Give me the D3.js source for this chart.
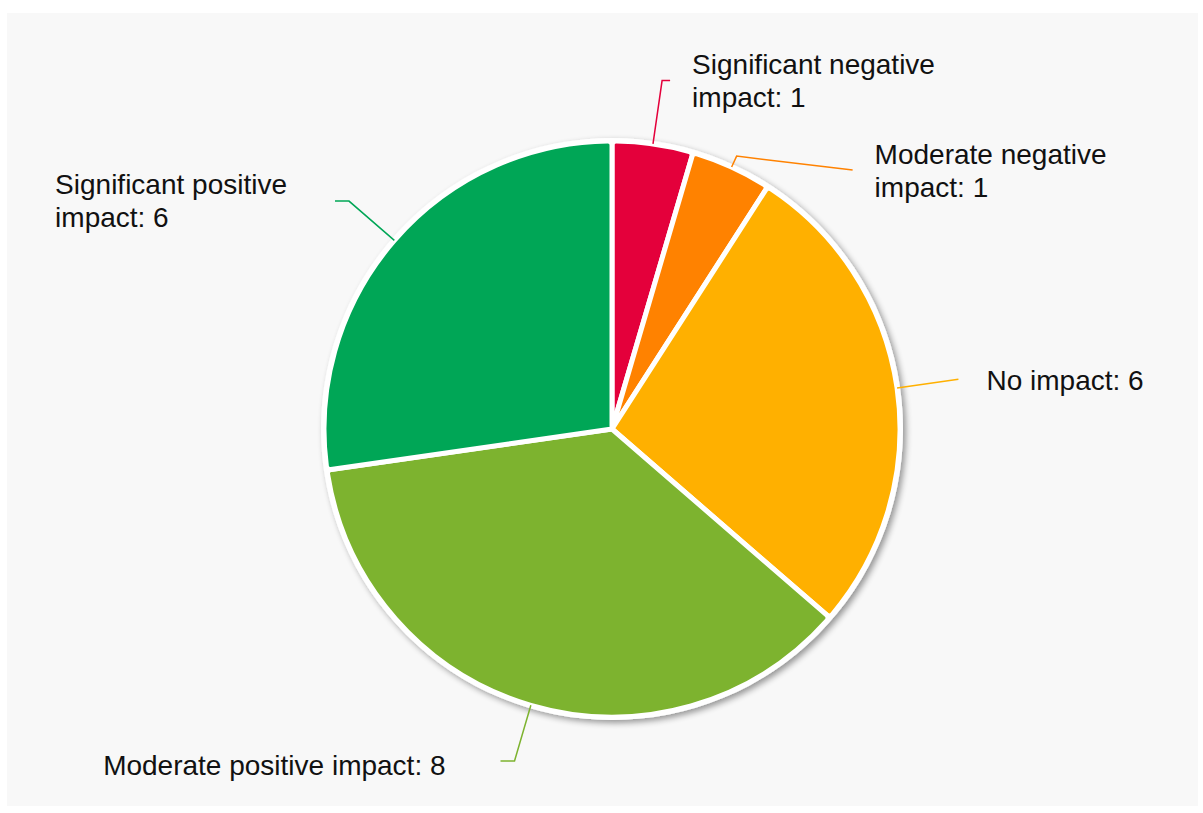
<!DOCTYPE html>
<html>
<head>
<meta charset="utf-8">
<script src="https://cdn.jsdelivr.net/npm/d3@7"></script>
<style>
  html, body { margin: 0; padding: 0; background: #ffffff; }
  svg { display: block; }
</style>
</head>
<body>
<svg id="chart" width="1203" height="813"></svg>
<script>
// ---- data ----
const categories = [
  "Significant negative impact",
  "Moderate negative impact",
  "No impact",
  "Moderate positive impact",
  "Significant positive impact"
];
const values = [1, 1, 6, 8, 6];
const colors = ["#e4003b", "#ff8200", "#ffb000", "#7db32f", "#00a656"];
// label text lines (wrapped as in the reference)
const labelLines = [
  ["Significant negative", "impact: 1"],
  ["Moderate negative", "impact: 1"],
  ["No impact: 6"],
  ["Moderate positive impact: 8"],
  ["Significant positive", "impact: 6"]
];

// ---- layout ----
const W = 1203, H = 813;
const cx = 612, cy = 429, R = 288;
// connector layout per slice: radial extension, horizontal elbow, vertical drift, text gap, text shift
const connector = [
  { ext: 64, elbow: 8,   dy: 0,  gap: 22, ty: 0 },
  { ext: 12, elbow: 116, dy: 14, gap: 22, ty: 1 },
  { ext: 62, elbow: 0,   dy: 0,  gap: 28, ty: 1 },
  { ext: 58, elbow: 14,  dy: 0,  gap: 55, ty: 4 },
  { ext: 60, elbow: 14,  dy: 0,  gap: 48, ty: 0 }
];

const svg = d3.select("#chart");
const defs = svg.append("defs");
const f = defs.append("filter").attr("id", "shadow")
  .attr("x", "-10%").attr("y", "-10%").attr("width", "120%").attr("height", "120%");
f.append("feGaussianBlur").attr("in", "SourceAlpha").attr("stdDeviation", 3).attr("result", "b");
f.append("feOffset").attr("in", "b").attr("dx", 3).attr("dy", 3).attr("result", "o");
f.append("feComponentTransfer").attr("in", "o").attr("result", "s")
  .append("feFuncA").attr("type", "linear").attr("slope", 0.4);
const m = f.append("feMerge");
m.append("feMergeNode").attr("in", "s");
m.append("feMergeNode").attr("in", "SourceGraphic");

// panel
svg.append("rect").attr("x", 7).attr("y", 13).attr("width", 1191).attr("height", 793)
  .attr("fill", "#f8f8f8");

const pie = d3.pie().sort(null).value(d => d)(values);
const arc = d3.arc().innerRadius(0).outerRadius(R).cornerRadius(4);

const g = svg.append("g").attr("transform", `translate(${cx},${cy})`);

// outer white ring with shadow
g.append("circle").attr("r", R + 3).attr("fill", "#ffffff").attr("filter", "url(#shadow)");

g.selectAll("path.slice").data(pie).join("path")
  .attr("class", "slice")
  .attr("d", arc)
  .attr("fill", (d, i) => colors[i])
  .attr("stroke", "#ffffff")
  .attr("stroke-width", 5)
  .attr("stroke-linejoin", "round");

// connectors & labels
const polar = (r, a) => [r * Math.sin(a), -r * Math.cos(a)];
pie.forEach((d, i) => {
  const a = (d.startAngle + d.endAngle) / 2;
  const c = connector[i];
  const right = Math.sin(a) >= 0;
  const p0 = polar(R, a);
  const p1 = polar(R + c.ext, a);
  const p2 = [p1[0] + (right ? c.elbow : -c.elbow), p1[1] + c.dy];
  g.append("path")
    .attr("d", d3.line()([p0, p1, p2]))
    .attr("fill", "none")
    .attr("stroke", colors[i])
    .attr("stroke-width", 1.5);
  const lines = labelLines[i];
  const lh = 33;
  const tx = p2[0] + (right ? c.gap : -c.gap);
  const t = g.append("text")
    .attr("x", tx)
    .attr("y", p2[1] + c.ty - (lines.length - 1) * lh / 2)
    .attr("text-anchor", right ? "start" : "end")
    .attr("font-family", "Liberation Sans, Arial, sans-serif")
    .attr("font-size", 28)
    .attr("fill", "#111111");
  lines.forEach((ln, k) => {
    t.append("tspan").attr("x", tx).attr("dy", k === 0 ? "0.35em" : lh).text(ln);
  });
  // left labels: text left-aligned within the block that ends at the connector
  if (!right) {
    const bb = t.node().getBBox();
    t.attr("text-anchor", "start");
    t.selectAll("tspan").attr("x", bb.x);
  }
});
</script>
</body>
</html>
